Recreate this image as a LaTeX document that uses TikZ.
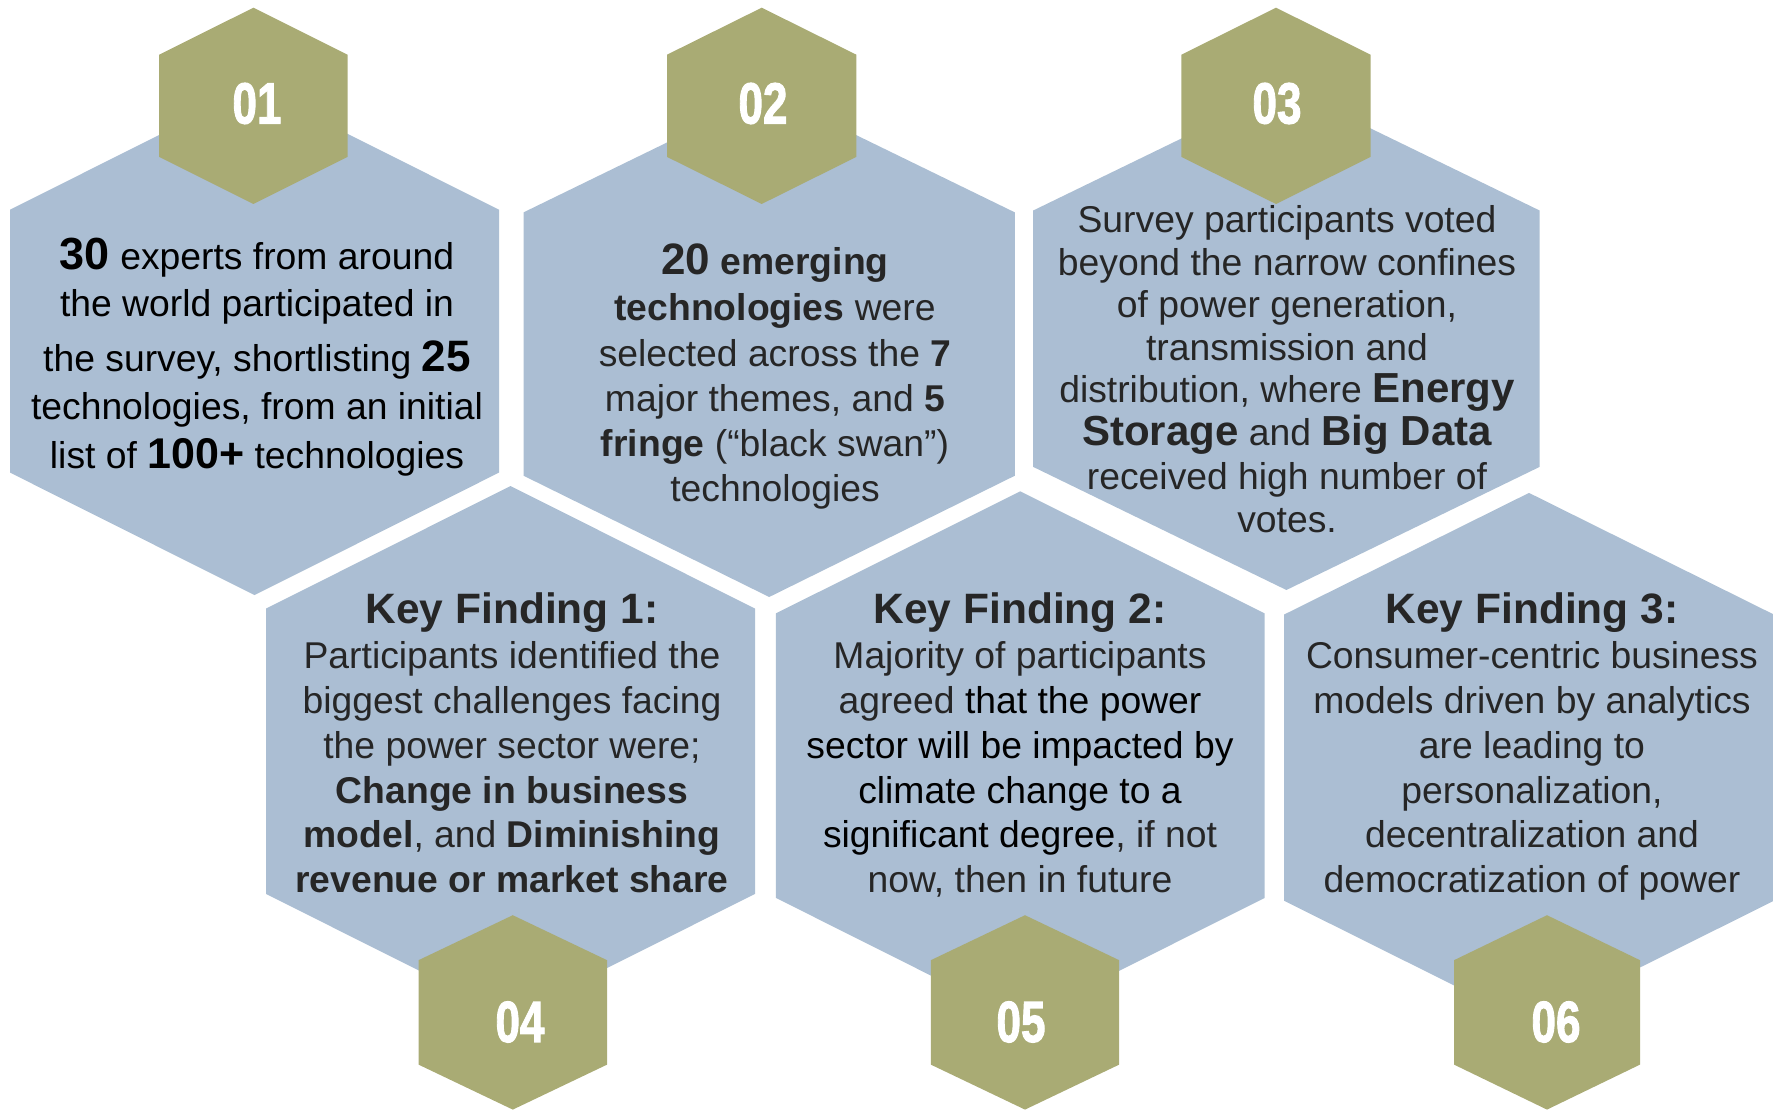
\documentclass[tikz,border=0pt]{standalone}
\usepackage{fontspec}
\setmainfont{Liberation Sans}
\newfontfamily\numfont{Liberation Sans}[BoldFeatures={FakeBold=2}]
\usepackage{graphicx}
\definecolor{hexblue}{HTML}{ABBED3}
\definecolor{hexolive}{HTML}{A9AB74}
\definecolor{txtgray}{HTML}{262626}
\newcommand{\fsz}[1]{\fontsize{#1}{#1}\selectfont}
\newcommand{\hexa}[7]{\fill[#1] (#2,#4) -- ({#2+#3},#5) -- ({#2+#3},#6) -- (#2,#7) -- ({#2-#3},#6) -- ({#2-#3},#5) -- cycle;}
\newcommand{\bnum}[2]{{\fsz{#1}\bfseries #2}}
\newcommand{\numtxt}[1]{\scalebox{0.76}[1]{#1}}
\begin{document}
\begin{tikzpicture}[x=1pt,y=-1pt,
  txt/.style={anchor=base,inner sep=0pt,font=\fsz{37.3},text=txtgray},
  blk/.style={txt,text=black},
  ttl/.style={txt,font=\fsz{42.5}\bfseries},
  num/.style={inner sep=0pt,text=white,font=\numfont\fsz{58}\bfseries}]
\useasboundingbox (0,0) rectangle (1773,1110);
% big hexagons
\hexa{hexblue}{254.5}{244.5}{87.2}{209.7}{472.6}{595.1}
\hexa{hexblue}{769.2}{245.7}{92.7}{212.4}{475.7}{597}
\hexa{hexblue}{1286.4}{253.2}{87.5}{210.5}{466.9}{590}
\hexa{hexblue}{510.5}{244.5}{486}{608.6}{893.9}{1016.5}
\hexa{hexblue}{1020.3}{244.4}{491.3}{613.4}{897.9}{1020.4}
\hexa{hexblue}{1529}{245}{492.9}{614.6}{900.7}{1022.8}
% olive hexagons
\hexa{hexolive}{253.4}{94.2}{7.7}{54.7}{156.9}{204}
\hexa{hexolive}{761.7}{94.7}{7.7}{54.7}{156.9}{204}
\hexa{hexolive}{1276}{94.6}{7.7}{54.7}{156.9}{204}
\hexa{hexolive}{512.8}{94.3}{915.2}{960.2}{1064.6}{1109.6}
\hexa{hexolive}{1025}{94.2}{915.2}{960.2}{1064.6}{1109.6}
\hexa{hexolive}{1547}{93}{915.2}{960.2}{1064.6}{1109.6}
% numbers
\node[num] (n1) at (257,103.5) {\numtxt{01}};
\node[num] (n2) at (763,103.5) {\numtxt{02}};
\node[num] (n3) at (1277,103.5) {\numtxt{03}};
\node[num] (n4) at (520,1022) {\numtxt{04}};
\node[num] (n5) at (1021,1022) {\numtxt{05}};
\node[num] (n6) at (1556,1022) {\numtxt{06}};
% hex 1
\node[blk] (a1) at (257,269.8) {\bnum{45}{30} experts from around};
\node[blk] (a2) at (257,316.9) {the world participated in};
\node[blk] (a3) at (257,371.2) {the survey, shortlisting \bnum{44}{25}};
\node[blk] (a4) at (257,419) {technologies, from an initial};
\node[blk] (a5) at (257,468.8) {list of \bnum{43}{100+} technologies};
% hex 2
\node[txt] (b1) at (775,274.8) {\bnum{44}{20} \textbf{emerging}};
\node[txt] (b2) at (775,320.7) {\textbf{technologies} were};
\node[txt] (b3) at (775,366.6) {selected across the \textbf{7}};
\node[txt] (b4) at (775,411.4) {major themes, and \textbf{5}};
\node[txt] (b5) at (775,456.2) {\textbf{fringe} (“black swan”)};
\node[txt] (b6) at (775,501.3) {technologies};
% hex 3
\node[txt] (c1) at (1287,232.3) {Survey participants voted};
\node[txt] (c2) at (1287,275.1) {beyond the narrow confines};
\node[txt] (c3) at (1287,317.9) {of power generation,};
\node[txt] (c4) at (1287,360.7) {transmission and};
\node[txt] (c5) at (1287,402.5) {distribution, where \bnum{42}{Energy}};
\node[txt] (c6) at (1287,445.3) {\bnum{42}{Storage} and \bnum{42}{Big Data}};
\node[txt] (c7) at (1287,489) {received high number of};
\node[txt] (c8) at (1287,532) {votes.};
% hex 4
\node[ttl] (d0) at (512,623.4) {Key Finding 1:};
\node[txt] (d1) at (512,668.4) {Participants identified the};
\node[txt] (d2) at (512,713.2) {biggest challenges facing};
\node[txt] (d3) at (512,758) {the power sector were;};
\node[txt] (d4) at (512,803) {\textbf{Change in business}};
\node[txt] (d5) at (512,847.8) {\textbf{model}, and \textbf{Diminishing}};
\node[txt] (d6) at (512,892.6) {\textbf{revenue or market share}};
% hex 5
\node[ttl] (e0) at (1020,623.4) {Key Finding 2:};
\node[txt] (e1) at (1020,668.4) {Majority of participants};
\node[txt] (e2) at (1020,713.2) {agreed \textcolor{black}{that the power}};
\node[blk] (e3) at (1020,758) {sector will be impacted by};
\node[blk] (e4) at (1020,803) {climate change to a};
\node[blk] (e5) at (1020,847.8) {significant degree\textcolor{txtgray}{, if not}};
\node[txt] (e6) at (1020,892.6) {now, then in future};
% hex 6
\node[ttl] (f0) at (1532,623.4) {Key Finding 3:};
\node[txt] (f1) at (1532,668.4) {Consumer-centric business};
\node[txt] (f2) at (1532,713.2) {models driven by analytics};
\node[txt] (f3) at (1532,758) {are leading to};
\node[txt] (f4) at (1532,803) {personalization,};
\node[txt] (f5) at (1532,847.8) {decentralization and};
\node[txt] (f6) at (1532,892.6) {democratization of power};
\end{tikzpicture}
\end{document}
